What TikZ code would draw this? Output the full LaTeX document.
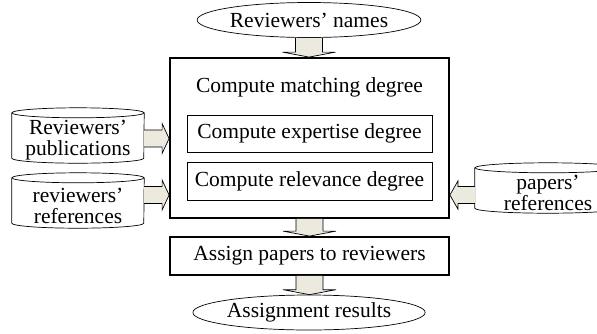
\documentclass[tikz,border=0pt]{standalone}
\usepackage{fontspec}
\setmainfont{Liberation Serif}
\usetikzlibrary{calc,shapes,positioning}

\definecolor{arrowfill}{RGB}{236,234,222}

% fat arrows between two named points
\newcommand{\arrowdown}[2]{%
	\draw[fatarrow] let \p1=(#1), \p2=(#2) in
	(\x1-13.5pt,\y1) -- (\x1-13.5pt,\y2+5pt) -- (\x1-26.5pt,\y2+5pt) -- (\x1,\y2)
	-- (\x1+26.5pt,\y2+5pt) -- (\x1+13.5pt,\y2+5pt) -- (\x1+13.5pt,\y1);}
\newcommand{\arrowright}[2]{%
	\draw[fatarrow] let \p1=(#1), \p2=(#2) in
	(\x1,\y1+8.5pt) -- (\x2-7pt,\y1+8.5pt) -- (\x2-7pt,\y1+15pt) -- (\x2,\y1)
	-- (\x2-7pt,\y1-15pt) -- (\x2-7pt,\y1-8.5pt) -- (\x1,\y1-8.5pt);}
\newcommand{\arrowleft}[2]{%
	\draw[fatarrow] let \p1=(#1), \p2=(#2) in
	(\x1,\y1+8.5pt) -- (\x2+8pt,\y1+8.5pt) -- (\x2+8pt,\y1+14pt) -- (\x2,\y1)
	-- (\x2+8pt,\y1-14pt) -- (\x2+8pt,\y1-8.5pt) -- (\x1,\y1-8.5pt);}
% lid and walls round a store node (half width in pt)
\newcommand{\drawstore}[2]{%
	\draw[storeline] ([yshift=5pt]#1.north) ellipse [x radius=#2pt, y radius=5pt];
	\draw[storeline] ([yshift=5pt]#1.north west) -- ([yshift=5pt]#1.south west)
	arc [start angle=180, end angle=360, x radius=#2pt, y radius=5pt] -- ([yshift=5pt]#1.north east);}

\begin{document}
\begin{tikzpicture}[x=1pt,y=-1pt,
	font=\fontsize{21.5}{21}\selectfont,
	mainbox/.style={draw, line width=1.8pt, inner sep=0pt},
	subbox/.style={draw, line width=0.8pt, inner sep=0pt, minimum width=245pt},
	terminal/.style={draw, ellipse, line width=0.7pt, inner sep=0pt, minimum width=193pt, minimum height=35pt},
	store/.style={inner sep=0pt, align=center},
	storeline/.style={line width=0.7pt},
	fatarrow/.style={draw, fill=arrowfill, line width=0.7pt}]
	
	\useasboundingbox (0,0) rectangle (597,333);
	
	% flow
	\node[terminal] (names) at (309,20) {Reviewers’ names};
	\node[mainbox, minimum width=279pt, minimum height=160pt] (main) at (309.5,138) {};
	\node[anchor=base] (matching) at (309.5,92) {Compute matching degree};
	\node[subbox, minimum height=37pt] (expertise) at (309.5,133.5) {Compute expertise degree};
	\node[subbox, minimum height=38pt] (relevance) at (309.5,181) {Compute relevance degree};
	\node[mainbox, minimum width=279pt, minimum height=38pt] (assign) at (309.5,256) {Assign papers to reviewers};
	\node[terminal] (results) at (309,312.5) {Assignment results};
	
	% data stores
	\node[store, minimum width=132pt, minimum height=45pt] (pub) at (78,140.5) {Reviewers’\\publications};
	\node[store, minimum width=132pt, minimum height=45pt] (refs) at (78,205.5) {reviewers’\\references};
	\node[store, minimum width=146pt, minimum height=40pt] (prefs) at (548,193) {papers’\\references};
	\drawstore{pub}{66}
	\drawstore{refs}{66}
	\drawstore{prefs}{73}
	
	\arrowdown{names.south}{main.north}
	\arrowdown{main.south}{assign.north}
	\arrowdown{assign.south}{results.north}
	\arrowright{[yshift=2pt]pub.east}{main.west}
	\arrowright{[yshift=10.5pt]refs.east}{main.west}
	\arrowleft{[yshift=-2pt]prefs.west}{main.east}
	
\end{tikzpicture}
\end{document}
